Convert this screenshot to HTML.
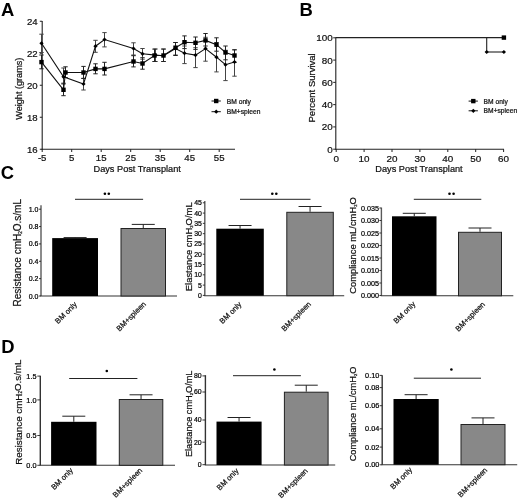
<!DOCTYPE html>
<html><head><meta charset="utf-8"><style>
html,body{margin:0;padding:0;background:#fff;}
svg{display:block;font-family:"Liberation Sans", sans-serif;will-change:transform;}
</style></head><body>
<svg width="520" height="499" viewBox="0 0 520 499">
<rect width="520" height="499" fill="#fff"/>
<text x="1.0" y="15.6" font-size="18.4" text-anchor="start" fill="#000" font-weight="bold" >A</text>
<text x="299.6" y="15.6" font-size="18.4" text-anchor="start" fill="#000" font-weight="bold" >B</text>
<text x="0.8" y="179.4" font-size="18.4" text-anchor="start" fill="#000" font-weight="bold" >C</text>
<text x="1.2" y="352.8" font-size="18.4" text-anchor="start" fill="#000" font-weight="bold" >D</text>
<line x1="42.2" y1="21" x2="42.2" y2="149.7" stroke="#222" stroke-width="1.1"/>
<line x1="41.7" y1="149.2" x2="235" y2="149.2" stroke="#222" stroke-width="1.1"/>
<line x1="39.8" y1="21.25" x2="42.2" y2="21.25" stroke="#222" stroke-width="1"/>
<text x="37.6" y="24.65" font-size="9.6" text-anchor="end" fill="#111" stroke="#111" stroke-width="0.22" font-weight="normal" >24</text>
<line x1="39.8" y1="53.25" x2="42.2" y2="53.25" stroke="#222" stroke-width="1"/>
<text x="37.6" y="56.65" font-size="9.6" text-anchor="end" fill="#111" stroke="#111" stroke-width="0.22" font-weight="normal" >22</text>
<line x1="39.8" y1="85.25" x2="42.2" y2="85.25" stroke="#222" stroke-width="1"/>
<text x="37.6" y="88.65" font-size="9.6" text-anchor="end" fill="#111" stroke="#111" stroke-width="0.22" font-weight="normal" >20</text>
<line x1="39.8" y1="117.25" x2="42.2" y2="117.25" stroke="#222" stroke-width="1"/>
<text x="37.6" y="120.65" font-size="9.6" text-anchor="end" fill="#111" stroke="#111" stroke-width="0.22" font-weight="normal" >18</text>
<line x1="39.8" y1="149.25" x2="42.2" y2="149.25" stroke="#222" stroke-width="1"/>
<text x="37.6" y="152.65" font-size="9.6" text-anchor="end" fill="#111" stroke="#111" stroke-width="0.22" font-weight="normal" >16</text>
<line x1="42.2" y1="149.2" x2="42.2" y2="152.0" stroke="#222" stroke-width="1"/>
<text x="42.2" y="160.6" font-size="9.6" text-anchor="middle" fill="#111" stroke="#111" stroke-width="0.22" font-weight="normal" >-5</text>
<line x1="71.7" y1="149.2" x2="71.7" y2="152.0" stroke="#222" stroke-width="1"/>
<text x="71.7" y="160.6" font-size="9.6" text-anchor="middle" fill="#111" stroke="#111" stroke-width="0.22" font-weight="normal" >5</text>
<line x1="101.2" y1="149.2" x2="101.2" y2="152.0" stroke="#222" stroke-width="1"/>
<text x="101.2" y="160.6" font-size="9.6" text-anchor="middle" fill="#111" stroke="#111" stroke-width="0.22" font-weight="normal" >15</text>
<line x1="130.7" y1="149.2" x2="130.7" y2="152.0" stroke="#222" stroke-width="1"/>
<text x="130.7" y="160.6" font-size="9.6" text-anchor="middle" fill="#111" stroke="#111" stroke-width="0.22" font-weight="normal" >25</text>
<line x1="160.2" y1="149.2" x2="160.2" y2="152.0" stroke="#222" stroke-width="1"/>
<text x="160.2" y="160.6" font-size="9.6" text-anchor="middle" fill="#111" stroke="#111" stroke-width="0.22" font-weight="normal" >35</text>
<line x1="189.7" y1="149.2" x2="189.7" y2="152.0" stroke="#222" stroke-width="1"/>
<text x="189.7" y="160.6" font-size="9.6" text-anchor="middle" fill="#111" stroke="#111" stroke-width="0.22" font-weight="normal" >45</text>
<line x1="219.2" y1="149.2" x2="219.2" y2="152.0" stroke="#222" stroke-width="1"/>
<text x="219.2" y="160.6" font-size="9.6" text-anchor="middle" fill="#111" stroke="#111" stroke-width="0.22" font-weight="normal" >55</text>
<text x="137.2" y="171.6" font-size="9.2" text-anchor="middle" fill="#111" stroke="#111" stroke-width="0.22" font-weight="normal" >Days Post Transplant</text>
<text x="0" y="0" font-size="9.1" text-anchor="middle" fill="#111" stroke="#111" stroke-width="0.22" font-weight="normal" transform="translate(21.5,88.7) rotate(-90)">Weight (grams)</text>
<line x1="41.5" y1="34.2" x2="41.5" y2="52.5" stroke="#444" stroke-width="1"/>
<line x1="39.3" y1="34.2" x2="43.7" y2="34.2" stroke="#444" stroke-width="1"/>
<line x1="39.3" y1="52.5" x2="43.7" y2="52.5" stroke="#444" stroke-width="1"/>
<line x1="63.5" y1="68" x2="63.5" y2="84" stroke="#444" stroke-width="1"/>
<line x1="61.3" y1="68" x2="65.7" y2="68" stroke="#444" stroke-width="1"/>
<line x1="61.3" y1="84" x2="65.7" y2="84" stroke="#444" stroke-width="1"/>
<line x1="83.5" y1="78.4" x2="83.5" y2="90" stroke="#444" stroke-width="1"/>
<line x1="81.3" y1="78.4" x2="85.7" y2="78.4" stroke="#444" stroke-width="1"/>
<line x1="81.3" y1="90" x2="85.7" y2="90" stroke="#444" stroke-width="1"/>
<line x1="95.5" y1="40.3" x2="95.5" y2="52.3" stroke="#444" stroke-width="1"/>
<line x1="93.3" y1="40.3" x2="97.7" y2="40.3" stroke="#444" stroke-width="1"/>
<line x1="93.3" y1="52.3" x2="97.7" y2="52.3" stroke="#444" stroke-width="1"/>
<line x1="104.5" y1="32.6" x2="104.5" y2="46.9" stroke="#444" stroke-width="1"/>
<line x1="102.3" y1="32.6" x2="106.7" y2="32.6" stroke="#444" stroke-width="1"/>
<line x1="102.3" y1="46.9" x2="106.7" y2="46.9" stroke="#444" stroke-width="1"/>
<line x1="133.5" y1="42.8" x2="133.5" y2="55" stroke="#444" stroke-width="1"/>
<line x1="131.3" y1="42.8" x2="135.7" y2="42.8" stroke="#444" stroke-width="1"/>
<line x1="131.3" y1="55" x2="135.7" y2="55" stroke="#444" stroke-width="1"/>
<line x1="142.5" y1="48.5" x2="142.5" y2="59.2" stroke="#444" stroke-width="1"/>
<line x1="140.3" y1="48.5" x2="144.7" y2="48.5" stroke="#444" stroke-width="1"/>
<line x1="140.3" y1="59.2" x2="144.7" y2="59.2" stroke="#444" stroke-width="1"/>
<line x1="155.5" y1="49" x2="155.5" y2="61.5" stroke="#444" stroke-width="1"/>
<line x1="153.3" y1="49" x2="157.7" y2="49" stroke="#444" stroke-width="1"/>
<line x1="153.3" y1="61.5" x2="157.7" y2="61.5" stroke="#444" stroke-width="1"/>
<line x1="163.5" y1="49" x2="163.5" y2="61.5" stroke="#444" stroke-width="1"/>
<line x1="161.3" y1="49" x2="165.7" y2="49" stroke="#444" stroke-width="1"/>
<line x1="161.3" y1="61.5" x2="165.7" y2="61.5" stroke="#444" stroke-width="1"/>
<line x1="175.5" y1="42.5" x2="175.5" y2="55" stroke="#444" stroke-width="1"/>
<line x1="173.3" y1="42.5" x2="177.7" y2="42.5" stroke="#444" stroke-width="1"/>
<line x1="173.3" y1="55" x2="177.7" y2="55" stroke="#444" stroke-width="1"/>
<line x1="184.5" y1="46" x2="184.5" y2="63.6" stroke="#444" stroke-width="1"/>
<line x1="182.3" y1="46" x2="186.7" y2="46" stroke="#444" stroke-width="1"/>
<line x1="182.3" y1="63.6" x2="186.7" y2="63.6" stroke="#444" stroke-width="1"/>
<line x1="195.5" y1="47.7" x2="195.5" y2="67.6" stroke="#444" stroke-width="1"/>
<line x1="193.3" y1="47.7" x2="197.7" y2="47.7" stroke="#444" stroke-width="1"/>
<line x1="193.3" y1="67.6" x2="197.7" y2="67.6" stroke="#444" stroke-width="1"/>
<line x1="205.5" y1="37.3" x2="205.5" y2="61.2" stroke="#444" stroke-width="1"/>
<line x1="203.3" y1="37.3" x2="207.7" y2="37.3" stroke="#444" stroke-width="1"/>
<line x1="203.3" y1="61.2" x2="207.7" y2="61.2" stroke="#444" stroke-width="1"/>
<line x1="216.5" y1="42.5" x2="216.5" y2="71.9" stroke="#444" stroke-width="1"/>
<line x1="214.3" y1="42.5" x2="218.7" y2="42.5" stroke="#444" stroke-width="1"/>
<line x1="214.3" y1="71.9" x2="218.7" y2="71.9" stroke="#444" stroke-width="1"/>
<line x1="225.5" y1="50.3" x2="225.5" y2="80.6" stroke="#444" stroke-width="1"/>
<line x1="223.3" y1="50.3" x2="227.7" y2="50.3" stroke="#444" stroke-width="1"/>
<line x1="223.3" y1="80.6" x2="227.7" y2="80.6" stroke="#444" stroke-width="1"/>
<line x1="234.5" y1="49.8" x2="234.5" y2="76.2" stroke="#444" stroke-width="1"/>
<line x1="232.3" y1="49.8" x2="236.7" y2="49.8" stroke="#444" stroke-width="1"/>
<line x1="232.3" y1="76.2" x2="236.7" y2="76.2" stroke="#444" stroke-width="1"/>
<line x1="41.5" y1="55" x2="41.5" y2="68.8" stroke="#222" stroke-width="1"/>
<line x1="39.3" y1="55" x2="43.7" y2="55" stroke="#222" stroke-width="1"/>
<line x1="39.3" y1="68.8" x2="43.7" y2="68.8" stroke="#222" stroke-width="1"/>
<line x1="63.5" y1="83.2" x2="63.5" y2="95.7" stroke="#222" stroke-width="1"/>
<line x1="61.3" y1="83.2" x2="65.7" y2="83.2" stroke="#222" stroke-width="1"/>
<line x1="61.3" y1="95.7" x2="65.7" y2="95.7" stroke="#222" stroke-width="1"/>
<line x1="65.5" y1="66.8" x2="65.5" y2="77.5" stroke="#222" stroke-width="1"/>
<line x1="63.3" y1="66.8" x2="67.7" y2="66.8" stroke="#222" stroke-width="1"/>
<line x1="63.3" y1="77.5" x2="67.7" y2="77.5" stroke="#222" stroke-width="1"/>
<line x1="83.5" y1="66.4" x2="83.5" y2="78.4" stroke="#222" stroke-width="1"/>
<line x1="81.3" y1="66.4" x2="85.7" y2="66.4" stroke="#222" stroke-width="1"/>
<line x1="81.3" y1="78.4" x2="85.7" y2="78.4" stroke="#222" stroke-width="1"/>
<line x1="95.5" y1="63.8" x2="95.5" y2="73.8" stroke="#222" stroke-width="1"/>
<line x1="93.3" y1="63.8" x2="97.7" y2="63.8" stroke="#222" stroke-width="1"/>
<line x1="93.3" y1="73.8" x2="97.7" y2="73.8" stroke="#222" stroke-width="1"/>
<line x1="104.5" y1="62.3" x2="104.5" y2="75" stroke="#222" stroke-width="1"/>
<line x1="102.3" y1="62.3" x2="106.7" y2="62.3" stroke="#222" stroke-width="1"/>
<line x1="102.3" y1="75" x2="106.7" y2="75" stroke="#222" stroke-width="1"/>
<line x1="133.5" y1="55.7" x2="133.5" y2="66.9" stroke="#222" stroke-width="1"/>
<line x1="131.3" y1="55.7" x2="135.7" y2="55.7" stroke="#222" stroke-width="1"/>
<line x1="131.3" y1="66.9" x2="135.7" y2="66.9" stroke="#222" stroke-width="1"/>
<line x1="142.5" y1="57.7" x2="142.5" y2="69.2" stroke="#222" stroke-width="1"/>
<line x1="140.3" y1="57.7" x2="144.7" y2="57.7" stroke="#222" stroke-width="1"/>
<line x1="140.3" y1="69.2" x2="144.7" y2="69.2" stroke="#222" stroke-width="1"/>
<line x1="154.5" y1="49.1" x2="154.5" y2="61.5" stroke="#222" stroke-width="1"/>
<line x1="152.3" y1="49.1" x2="156.7" y2="49.1" stroke="#222" stroke-width="1"/>
<line x1="152.3" y1="61.5" x2="156.7" y2="61.5" stroke="#222" stroke-width="1"/>
<line x1="163.5" y1="49.1" x2="163.5" y2="61.5" stroke="#222" stroke-width="1"/>
<line x1="161.3" y1="49.1" x2="165.7" y2="49.1" stroke="#222" stroke-width="1"/>
<line x1="161.3" y1="61.5" x2="165.7" y2="61.5" stroke="#222" stroke-width="1"/>
<line x1="175.5" y1="42.5" x2="175.5" y2="55.5" stroke="#222" stroke-width="1"/>
<line x1="173.3" y1="42.5" x2="177.7" y2="42.5" stroke="#222" stroke-width="1"/>
<line x1="173.3" y1="55.5" x2="177.7" y2="55.5" stroke="#222" stroke-width="1"/>
<line x1="184.5" y1="35.9" x2="184.5" y2="48.6" stroke="#222" stroke-width="1"/>
<line x1="182.3" y1="35.9" x2="186.7" y2="35.9" stroke="#222" stroke-width="1"/>
<line x1="182.3" y1="48.6" x2="186.7" y2="48.6" stroke="#222" stroke-width="1"/>
<line x1="195.5" y1="37" x2="195.5" y2="49.4" stroke="#222" stroke-width="1"/>
<line x1="193.3" y1="37" x2="197.7" y2="37" stroke="#222" stroke-width="1"/>
<line x1="193.3" y1="49.4" x2="197.7" y2="49.4" stroke="#222" stroke-width="1"/>
<line x1="205.5" y1="33.5" x2="205.5" y2="46" stroke="#222" stroke-width="1"/>
<line x1="203.3" y1="33.5" x2="207.7" y2="33.5" stroke="#222" stroke-width="1"/>
<line x1="203.3" y1="46" x2="207.7" y2="46" stroke="#222" stroke-width="1"/>
<line x1="216.5" y1="37.8" x2="216.5" y2="51.2" stroke="#222" stroke-width="1"/>
<line x1="214.3" y1="37.8" x2="218.7" y2="37.8" stroke="#222" stroke-width="1"/>
<line x1="214.3" y1="51.2" x2="218.7" y2="51.2" stroke="#222" stroke-width="1"/>
<line x1="225.5" y1="46" x2="225.5" y2="59.8" stroke="#222" stroke-width="1"/>
<line x1="223.3" y1="46" x2="227.7" y2="46" stroke="#222" stroke-width="1"/>
<line x1="223.3" y1="59.8" x2="227.7" y2="59.8" stroke="#222" stroke-width="1"/>
<line x1="234.5" y1="49.8" x2="234.5" y2="62.4" stroke="#222" stroke-width="1"/>
<line x1="232.3" y1="49.8" x2="236.7" y2="49.8" stroke="#222" stroke-width="1"/>
<line x1="232.3" y1="62.4" x2="236.7" y2="62.4" stroke="#222" stroke-width="1"/>
<polyline points="41.5,62.1 63.5,89.8 65.5,72.5 83.5,72.5 95.5,68.9 104.5,68.9 133.5,61.5 142.5,63.5 154.5,55.5 163.5,55.5 175.5,47.7 184.5,42.2 195.5,42.8 205.5,40.4 216.5,44.7 225.5,52.5 234.5,55.5" fill="none" stroke="#111" stroke-width="1.1"/>
<polyline points="41.5,43.3 63.5,76.8 83.5,84 95.5,46.2 104.5,39.5 133.5,48.5 142.5,53.8 155.5,55.1 163.5,55.7 175.5,48.6 184.5,53.2 195.5,55.1 205.5,48.6 216.5,57.2 225.5,64.7 234.5,62" fill="none" stroke="#111" stroke-width="1.1"/>
<rect x="39.3" y="59.9" width="4.4" height="4.4" fill="#000" stroke="none" stroke-width="1"/>
<rect x="61.3" y="87.6" width="4.4" height="4.4" fill="#000" stroke="none" stroke-width="1"/>
<rect x="63.3" y="70.3" width="4.4" height="4.4" fill="#000" stroke="none" stroke-width="1"/>
<rect x="81.3" y="70.3" width="4.4" height="4.4" fill="#000" stroke="none" stroke-width="1"/>
<rect x="93.3" y="66.7" width="4.4" height="4.4" fill="#000" stroke="none" stroke-width="1"/>
<rect x="102.3" y="66.7" width="4.4" height="4.4" fill="#000" stroke="none" stroke-width="1"/>
<rect x="131.3" y="59.3" width="4.4" height="4.4" fill="#000" stroke="none" stroke-width="1"/>
<rect x="140.3" y="61.3" width="4.4" height="4.4" fill="#000" stroke="none" stroke-width="1"/>
<rect x="152.3" y="53.3" width="4.4" height="4.4" fill="#000" stroke="none" stroke-width="1"/>
<rect x="161.3" y="53.3" width="4.4" height="4.4" fill="#000" stroke="none" stroke-width="1"/>
<rect x="173.3" y="45.5" width="4.4" height="4.4" fill="#000" stroke="none" stroke-width="1"/>
<rect x="182.3" y="40.0" width="4.4" height="4.4" fill="#000" stroke="none" stroke-width="1"/>
<rect x="193.3" y="40.6" width="4.4" height="4.4" fill="#000" stroke="none" stroke-width="1"/>
<rect x="203.3" y="38.2" width="4.4" height="4.4" fill="#000" stroke="none" stroke-width="1"/>
<rect x="214.3" y="42.5" width="4.4" height="4.4" fill="#000" stroke="none" stroke-width="1"/>
<rect x="223.3" y="50.3" width="4.4" height="4.4" fill="#000" stroke="none" stroke-width="1"/>
<rect x="232.3" y="53.3" width="4.4" height="4.4" fill="#000" stroke="none" stroke-width="1"/>
<path d="M39.4 43.3L41.5 41.2L43.6 43.3L41.5 45.4Z" fill="#000"/>
<path d="M61.4 76.8L63.5 74.7L65.6 76.8L63.5 78.9Z" fill="#000"/>
<path d="M81.4 84L83.5 81.9L85.6 84L83.5 86.1Z" fill="#000"/>
<path d="M93.4 46.2L95.5 44.1L97.6 46.2L95.5 48.3Z" fill="#000"/>
<path d="M102.4 39.5L104.5 37.4L106.6 39.5L104.5 41.6Z" fill="#000"/>
<path d="M131.4 48.5L133.5 46.4L135.6 48.5L133.5 50.6Z" fill="#000"/>
<path d="M140.4 53.8L142.5 51.7L144.6 53.8L142.5 55.9Z" fill="#000"/>
<path d="M153.4 55.1L155.5 53.0L157.6 55.1L155.5 57.2Z" fill="#000"/>
<path d="M161.4 55.7L163.5 53.6L165.6 55.7L163.5 57.8Z" fill="#000"/>
<path d="M173.4 48.6L175.5 46.5L177.6 48.6L175.5 50.7Z" fill="#000"/>
<path d="M182.4 53.2L184.5 51.1L186.6 53.2L184.5 55.3Z" fill="#000"/>
<path d="M193.4 55.1L195.5 53.0L197.6 55.1L195.5 57.2Z" fill="#000"/>
<path d="M203.4 48.6L205.5 46.5L207.6 48.6L205.5 50.7Z" fill="#000"/>
<path d="M214.4 57.2L216.5 55.1L218.6 57.2L216.5 59.3Z" fill="#000"/>
<path d="M223.4 64.7L225.5 62.6L227.6 64.7L225.5 66.8Z" fill="#000"/>
<path d="M232.4 62L234.5 59.9L236.6 62L234.5 64.1Z" fill="#000"/>
<line x1="211.5" y1="101" x2="220.8" y2="101" stroke="#111" stroke-width="1"/>
<rect x="214.0" y="98.8" width="4.4" height="4.4" fill="#000" stroke="none" stroke-width="1"/>
<text x="226.8" y="103.5" font-size="6.7" text-anchor="start" fill="#111" stroke="#111" stroke-width="0.22" font-weight="normal" >BM only</text>
<line x1="211.5" y1="111.7" x2="220.8" y2="111.7" stroke="#111" stroke-width="1"/>
<path d="M214.1 111.7L216.2 109.6L218.3 111.7L216.2 113.8Z" fill="#000"/>
<text x="226.8" y="114.2" font-size="6.7" text-anchor="start" fill="#111" stroke="#111" stroke-width="0.22" font-weight="normal" >BM+spleen</text>
<line x1="335.8" y1="37.3" x2="335.8" y2="149.7" stroke="#222" stroke-width="1.1"/>
<line x1="335.3" y1="149.2" x2="504" y2="149.2" stroke="#222" stroke-width="1.1"/>
<line x1="333.2" y1="37.8" x2="335.8" y2="37.8" stroke="#222" stroke-width="1"/>
<text x="332.8" y="41.3" font-size="9.9" text-anchor="end" fill="#111" stroke="#111" stroke-width="0.22" font-weight="normal" >100</text>
<line x1="333.2" y1="60.08" x2="335.8" y2="60.08" stroke="#222" stroke-width="1"/>
<text x="332.8" y="63.58" font-size="9.9" text-anchor="end" fill="#111" stroke="#111" stroke-width="0.22" font-weight="normal" >80</text>
<line x1="333.2" y1="82.36" x2="335.8" y2="82.36" stroke="#222" stroke-width="1"/>
<text x="332.8" y="85.86" font-size="9.9" text-anchor="end" fill="#111" stroke="#111" stroke-width="0.22" font-weight="normal" >60</text>
<line x1="333.2" y1="104.64" x2="335.8" y2="104.64" stroke="#222" stroke-width="1"/>
<text x="332.8" y="108.14" font-size="9.9" text-anchor="end" fill="#111" stroke="#111" stroke-width="0.22" font-weight="normal" >40</text>
<line x1="333.2" y1="126.92" x2="335.8" y2="126.92" stroke="#222" stroke-width="1"/>
<text x="332.8" y="130.42" font-size="9.9" text-anchor="end" fill="#111" stroke="#111" stroke-width="0.22" font-weight="normal" >20</text>
<line x1="333.2" y1="149.2" x2="335.8" y2="149.2" stroke="#222" stroke-width="1"/>
<text x="332.8" y="152.7" font-size="9.9" text-anchor="end" fill="#111" stroke="#111" stroke-width="0.22" font-weight="normal" >0</text>
<line x1="336.2" y1="149.2" x2="336.2" y2="152.0" stroke="#222" stroke-width="1"/>
<text x="336.2" y="161.8" font-size="9.9" text-anchor="middle" fill="#111" stroke="#111" stroke-width="0.22" font-weight="normal" >0</text>
<line x1="364.1" y1="149.2" x2="364.1" y2="152.0" stroke="#222" stroke-width="1"/>
<text x="364.1" y="161.8" font-size="9.9" text-anchor="middle" fill="#111" stroke="#111" stroke-width="0.22" font-weight="normal" >10</text>
<line x1="392.0" y1="149.2" x2="392.0" y2="152.0" stroke="#222" stroke-width="1"/>
<text x="392.0" y="161.8" font-size="9.9" text-anchor="middle" fill="#111" stroke="#111" stroke-width="0.22" font-weight="normal" >20</text>
<line x1="419.9" y1="149.2" x2="419.9" y2="152.0" stroke="#222" stroke-width="1"/>
<text x="419.9" y="161.8" font-size="9.9" text-anchor="middle" fill="#111" stroke="#111" stroke-width="0.22" font-weight="normal" >30</text>
<line x1="447.8" y1="149.2" x2="447.8" y2="152.0" stroke="#222" stroke-width="1"/>
<text x="447.8" y="161.8" font-size="9.9" text-anchor="middle" fill="#111" stroke="#111" stroke-width="0.22" font-weight="normal" >40</text>
<line x1="475.7" y1="149.2" x2="475.7" y2="152.0" stroke="#222" stroke-width="1"/>
<text x="475.7" y="161.8" font-size="9.9" text-anchor="middle" fill="#111" stroke="#111" stroke-width="0.22" font-weight="normal" >50</text>
<line x1="503.6" y1="149.2" x2="503.6" y2="152.0" stroke="#222" stroke-width="1"/>
<text x="503.6" y="161.8" font-size="9.9" text-anchor="middle" fill="#111" stroke="#111" stroke-width="0.22" font-weight="normal" >60</text>
<text x="419" y="171.8" font-size="9.2" text-anchor="middle" fill="#111" stroke="#111" stroke-width="0.22" font-weight="normal" >Days Post Transplant</text>
<text x="0" y="0" font-size="9.5" text-anchor="middle" fill="#111" stroke="#111" stroke-width="0.22" font-weight="normal" transform="translate(314.9,87.9) rotate(-90)">Percent Survival</text>
<line x1="335.8" y1="37.6" x2="503.9" y2="37.6" stroke="#222" stroke-width="1.1"/>
<line x1="486.7" y1="37.6" x2="486.7" y2="52" stroke="#222" stroke-width="1.1"/>
<line x1="486.7" y1="52" x2="503.9" y2="52" stroke="#222" stroke-width="1.1"/>
<rect x="501.7" y="35.4" width="4.4" height="4.4" fill="#000" stroke="none" stroke-width="1"/>
<path d="M484.6 52L486.7 49.9L488.8 52L486.7 54.1Z" fill="#000"/>
<path d="M501.8 52L503.9 49.9L506.0 52L503.9 54.1Z" fill="#000"/>
<line x1="468.6" y1="101.1" x2="477.9" y2="101.1" stroke="#111" stroke-width="1"/>
<rect x="471.1" y="98.9" width="4.4" height="4.4" fill="#000" stroke="none" stroke-width="1"/>
<text x="483.6" y="103.6" font-size="6.7" text-anchor="start" fill="#111" stroke="#111" stroke-width="0.22" font-weight="normal" >BM only</text>
<line x1="468.6" y1="110.8" x2="477.9" y2="110.8" stroke="#111" stroke-width="1"/>
<path d="M471.2 110.8L473.3 108.7L475.4 110.8L473.3 112.9Z" fill="#000"/>
<text x="483.6" y="113.3" font-size="6.7" text-anchor="start" fill="#111" stroke="#111" stroke-width="0.22" font-weight="normal" >BM+spleen</text>
<line x1="41" y1="205.3" x2="41" y2="296" stroke="#5a5a5a" stroke-width="1.4"/>
<line x1="40.4" y1="296" x2="177" y2="296" stroke="#333" stroke-width="1.1"/>
<line x1="39.0" y1="296.0" x2="41" y2="296.0" stroke="#222" stroke-width="0.9"/>
<text x="38.4" y="298.52" font-size="7.0" text-anchor="end" fill="#000" stroke="#000" stroke-width="0.22" font-weight="normal" >0.0</text>
<line x1="39.0" y1="278.64" x2="41" y2="278.64" stroke="#222" stroke-width="0.9"/>
<text x="38.4" y="281.16" font-size="7.0" text-anchor="end" fill="#000" stroke="#000" stroke-width="0.22" font-weight="normal" >0.2</text>
<line x1="39.0" y1="261.28" x2="41" y2="261.28" stroke="#222" stroke-width="0.9"/>
<text x="38.4" y="263.8" font-size="7.0" text-anchor="end" fill="#000" stroke="#000" stroke-width="0.22" font-weight="normal" >0.4</text>
<line x1="39.0" y1="243.92" x2="41" y2="243.92" stroke="#222" stroke-width="0.9"/>
<text x="38.4" y="246.44" font-size="7.0" text-anchor="end" fill="#000" stroke="#000" stroke-width="0.22" font-weight="normal" >0.6</text>
<line x1="39.0" y1="226.56" x2="41" y2="226.56" stroke="#222" stroke-width="0.9"/>
<text x="38.4" y="229.08" font-size="7.0" text-anchor="end" fill="#000" stroke="#000" stroke-width="0.22" font-weight="normal" >0.8</text>
<line x1="39.0" y1="209.2" x2="41" y2="209.2" stroke="#222" stroke-width="0.9"/>
<text x="38.4" y="211.72" font-size="7.0" text-anchor="end" fill="#000" stroke="#000" stroke-width="0.22" font-weight="normal" >1.0</text>
<rect x="52.2" y="238.1" width="45.8" height="57.9" fill="#000" stroke="none" stroke-width="1"/>
<rect x="121.0" y="228.5" width="44.5" height="67.5" fill="#888888" stroke="#222" stroke-width="1"/>
<line x1="75.1" y1="237.6" x2="75.1" y2="238.1" stroke="#222" stroke-width="1"/>
<line x1="63.6" y1="237.6" x2="86.6" y2="237.6" stroke="#222" stroke-width="1"/>
<line x1="143.25" y1="224.4" x2="143.25" y2="228" stroke="#222" stroke-width="1"/>
<line x1="131.75" y1="224.4" x2="154.75" y2="224.4" stroke="#222" stroke-width="1"/>
<line x1="75" y1="199.3" x2="143.1" y2="199.3" stroke="#222" stroke-width="1"/>
<circle cx="104.9" cy="193.7" r="1.3" fill="#000"/>
<circle cx="108.8" cy="193.7" r="1.3" fill="#000"/>
<text x="0" y="0" font-size="10" text-anchor="middle" fill="#111" stroke="#111" stroke-width="0.22" font-weight="normal" transform="translate(21.2,252.8) rotate(-90)">Resistance cmH<tspan font-size="0.45em" dy="0.12em">2</tspan><tspan dy="-0.12em">O.s/mL</tspan></text>
<text x="0" y="0" font-size="7.6" text-anchor="end" fill="#111" stroke="#111" stroke-width="0.22" font-weight="normal" transform="translate(77.5,304.8) rotate(-45)">BM only</text>
<text x="0" y="0" font-size="7.6" text-anchor="end" fill="#111" stroke="#111" stroke-width="0.22" font-weight="normal" transform="translate(146.5,304.65) rotate(-45)">BM+spleen</text>
<line x1="204.8" y1="201" x2="204.8" y2="295.7" stroke="#5a5a5a" stroke-width="1.4"/>
<line x1="204.2" y1="295.7" x2="344.2" y2="295.7" stroke="#333" stroke-width="1.1"/>
<line x1="202.8" y1="295.4" x2="204.8" y2="295.4" stroke="#222" stroke-width="0.9"/>
<text x="201.8" y="297.88" font-size="6.9" text-anchor="end" fill="#000" stroke="#000" stroke-width="0.22" font-weight="normal" >0</text>
<line x1="202.8" y1="285.11" x2="204.8" y2="285.11" stroke="#222" stroke-width="0.9"/>
<text x="201.8" y="287.59" font-size="6.9" text-anchor="end" fill="#000" stroke="#000" stroke-width="0.22" font-weight="normal" >5</text>
<line x1="202.8" y1="274.82" x2="204.8" y2="274.82" stroke="#222" stroke-width="0.9"/>
<text x="201.8" y="277.3" font-size="6.9" text-anchor="end" fill="#000" stroke="#000" stroke-width="0.22" font-weight="normal" >10</text>
<line x1="202.8" y1="264.53" x2="204.8" y2="264.53" stroke="#222" stroke-width="0.9"/>
<text x="201.8" y="267.01" font-size="6.9" text-anchor="end" fill="#000" stroke="#000" stroke-width="0.22" font-weight="normal" >15</text>
<line x1="202.8" y1="254.24" x2="204.8" y2="254.24" stroke="#222" stroke-width="0.9"/>
<text x="201.8" y="256.72" font-size="6.9" text-anchor="end" fill="#000" stroke="#000" stroke-width="0.22" font-weight="normal" >20</text>
<line x1="202.8" y1="243.95" x2="204.8" y2="243.95" stroke="#222" stroke-width="0.9"/>
<text x="201.8" y="246.43" font-size="6.9" text-anchor="end" fill="#000" stroke="#000" stroke-width="0.22" font-weight="normal" >25</text>
<line x1="202.8" y1="233.66" x2="204.8" y2="233.66" stroke="#222" stroke-width="0.9"/>
<text x="201.8" y="236.14" font-size="6.9" text-anchor="end" fill="#000" stroke="#000" stroke-width="0.22" font-weight="normal" >30</text>
<line x1="202.8" y1="223.37" x2="204.8" y2="223.37" stroke="#222" stroke-width="0.9"/>
<text x="201.8" y="225.85" font-size="6.9" text-anchor="end" fill="#000" stroke="#000" stroke-width="0.22" font-weight="normal" >35</text>
<line x1="202.8" y1="213.08" x2="204.8" y2="213.08" stroke="#222" stroke-width="0.9"/>
<text x="201.8" y="215.56" font-size="6.9" text-anchor="end" fill="#000" stroke="#000" stroke-width="0.22" font-weight="normal" >40</text>
<line x1="202.8" y1="202.79" x2="204.8" y2="202.79" stroke="#222" stroke-width="0.9"/>
<text x="201.8" y="205.27" font-size="6.9" text-anchor="end" fill="#000" stroke="#000" stroke-width="0.22" font-weight="normal" >45</text>
<rect x="216.3" y="228.7" width="47.5" height="67.0" fill="#000" stroke="none" stroke-width="1"/>
<rect x="286.8" y="212.3" width="46.5" height="83.4" fill="#888888" stroke="#222" stroke-width="1"/>
<line x1="240.05" y1="225.5" x2="240.05" y2="228.7" stroke="#222" stroke-width="1"/>
<line x1="228.55" y1="225.5" x2="251.55" y2="225.5" stroke="#222" stroke-width="1"/>
<line x1="310.05" y1="206.5" x2="310.05" y2="211.8" stroke="#222" stroke-width="1"/>
<line x1="298.55" y1="206.5" x2="321.55" y2="206.5" stroke="#222" stroke-width="1"/>
<line x1="240" y1="199.3" x2="310.5" y2="199.3" stroke="#222" stroke-width="1"/>
<circle cx="272.3" cy="193.7" r="1.3" fill="#000"/>
<circle cx="276.3" cy="193.7" r="1.3" fill="#000"/>
<text x="0" y="0" font-size="9.45" text-anchor="middle" fill="#111" stroke="#111" stroke-width="0.22" font-weight="normal" transform="translate(192.2,246.8) rotate(-90)">Elastance cmH<tspan font-size="0.45em" dy="0.12em">2</tspan><tspan dy="-0.12em">O/mL</tspan></text>
<text x="0" y="0" font-size="7.6" text-anchor="end" fill="#111" stroke="#111" stroke-width="0.22" font-weight="normal" transform="translate(242,304.8) rotate(-45)">BM only</text>
<text x="0" y="0" font-size="7.6" text-anchor="end" fill="#111" stroke="#111" stroke-width="0.22" font-weight="normal" transform="translate(311.5,304.65) rotate(-45)">BM+spleen</text>
<line x1="381.4" y1="207.6" x2="381.4" y2="295.8" stroke="#5a5a5a" stroke-width="1.4"/>
<line x1="380.8" y1="295.8" x2="513.3" y2="295.8" stroke="#333" stroke-width="1.1"/>
<line x1="379.4" y1="295.5" x2="381.4" y2="295.5" stroke="#222" stroke-width="0.9"/>
<text x="379.1" y="298.09" font-size="7.2" text-anchor="end" fill="#000" stroke="#000" stroke-width="0.22" font-weight="normal" >0.000</text>
<line x1="379.4" y1="283.0" x2="381.4" y2="283.0" stroke="#222" stroke-width="0.9"/>
<text x="379.1" y="285.59" font-size="7.2" text-anchor="end" fill="#000" stroke="#000" stroke-width="0.22" font-weight="normal" >0.005</text>
<line x1="379.4" y1="270.5" x2="381.4" y2="270.5" stroke="#222" stroke-width="0.9"/>
<text x="379.1" y="273.09" font-size="7.2" text-anchor="end" fill="#000" stroke="#000" stroke-width="0.22" font-weight="normal" >0.010</text>
<line x1="379.4" y1="258.0" x2="381.4" y2="258.0" stroke="#222" stroke-width="0.9"/>
<text x="379.1" y="260.59" font-size="7.2" text-anchor="end" fill="#000" stroke="#000" stroke-width="0.22" font-weight="normal" >0.015</text>
<line x1="379.4" y1="245.5" x2="381.4" y2="245.5" stroke="#222" stroke-width="0.9"/>
<text x="379.1" y="248.09" font-size="7.2" text-anchor="end" fill="#000" stroke="#000" stroke-width="0.22" font-weight="normal" >0.020</text>
<line x1="379.4" y1="233.0" x2="381.4" y2="233.0" stroke="#222" stroke-width="0.9"/>
<text x="379.1" y="235.59" font-size="7.2" text-anchor="end" fill="#000" stroke="#000" stroke-width="0.22" font-weight="normal" >0.025</text>
<line x1="379.4" y1="220.5" x2="381.4" y2="220.5" stroke="#222" stroke-width="0.9"/>
<text x="379.1" y="223.09" font-size="7.2" text-anchor="end" fill="#000" stroke="#000" stroke-width="0.22" font-weight="normal" >0.030</text>
<line x1="379.4" y1="208.0" x2="381.4" y2="208.0" stroke="#222" stroke-width="0.9"/>
<text x="379.1" y="210.59" font-size="7.2" text-anchor="end" fill="#000" stroke="#000" stroke-width="0.22" font-weight="normal" >0.035</text>
<rect x="392" y="216.3" width="44.5" height="79.5" fill="#000" stroke="none" stroke-width="1"/>
<rect x="458.5" y="232.3" width="43" height="63.5" fill="#888888" stroke="#222" stroke-width="1"/>
<line x1="414.25" y1="213.3" x2="414.25" y2="216.3" stroke="#222" stroke-width="1"/>
<line x1="402.75" y1="213.3" x2="425.75" y2="213.3" stroke="#222" stroke-width="1"/>
<line x1="480.0" y1="228" x2="480.0" y2="231.8" stroke="#222" stroke-width="1"/>
<line x1="468.5" y1="228" x2="491.5" y2="228" stroke="#222" stroke-width="1"/>
<line x1="413.8" y1="199.3" x2="481.3" y2="199.3" stroke="#222" stroke-width="1"/>
<circle cx="449.5" cy="193.7" r="1.3" fill="#000"/>
<circle cx="453.6" cy="193.7" r="1.3" fill="#000"/>
<text x="0" y="0" font-size="9.4" text-anchor="middle" fill="#111" stroke="#111" stroke-width="0.22" font-weight="normal" transform="translate(356.4,245.5) rotate(-90)">Compliance mL/cmH<tspan font-size="0.45em" dy="0.12em">2</tspan><tspan dy="-0.12em">O</tspan></text>
<text x="0" y="0" font-size="7.6" text-anchor="end" fill="#111" stroke="#111" stroke-width="0.22" font-weight="normal" transform="translate(415.95,304.6) rotate(-45)">BM only</text>
<text x="0" y="0" font-size="7.6" text-anchor="end" fill="#111" stroke="#111" stroke-width="0.22" font-weight="normal" transform="translate(485.5,304.9) rotate(-45)">BM+spleen</text>
<line x1="40.3" y1="375.7" x2="40.3" y2="465.3" stroke="#333" stroke-width="1.4"/>
<line x1="39.7" y1="465.3" x2="175" y2="465.3" stroke="#333" stroke-width="1.1"/>
<line x1="37.3" y1="376.1" x2="40.3" y2="376.1" stroke="#222" stroke-width="0.9"/>
<text x="36.5" y="378.73" font-size="7.3" text-anchor="end" fill="#000" stroke="#000" stroke-width="0.22" font-weight="normal" >1.5</text>
<line x1="37.3" y1="399.9" x2="40.3" y2="399.9" stroke="#222" stroke-width="0.9"/>
<text x="36.5" y="402.53" font-size="7.3" text-anchor="end" fill="#000" stroke="#000" stroke-width="0.22" font-weight="normal" >1.0</text>
<line x1="37.3" y1="435.5" x2="40.3" y2="435.5" stroke="#222" stroke-width="0.9"/>
<text x="36.5" y="438.13" font-size="7.3" text-anchor="end" fill="#000" stroke="#000" stroke-width="0.22" font-weight="normal" >0.5</text>
<line x1="37.3" y1="465.3" x2="40.3" y2="465.3" stroke="#222" stroke-width="0.9"/>
<text x="36.5" y="467.93" font-size="7.3" text-anchor="end" fill="#000" stroke="#000" stroke-width="0.22" font-weight="normal" >0.0</text>
<rect x="51.1" y="421.8" width="45.4" height="43.5" fill="#000" stroke="none" stroke-width="1"/>
<rect x="119.3" y="399.5" width="43.5" height="65.8" fill="#888888" stroke="#222" stroke-width="1"/>
<line x1="73.8" y1="416.2" x2="73.8" y2="421.8" stroke="#222" stroke-width="1"/>
<line x1="62.3" y1="416.2" x2="85.3" y2="416.2" stroke="#222" stroke-width="1"/>
<line x1="141.05" y1="394.8" x2="141.05" y2="399" stroke="#222" stroke-width="1"/>
<line x1="129.55" y1="394.8" x2="152.55" y2="394.8" stroke="#222" stroke-width="1"/>
<line x1="69.2" y1="378.5" x2="137.4" y2="378.5" stroke="#222" stroke-width="1"/>
<circle cx="106.8" cy="371" r="1.3" fill="#000"/>
<text x="0" y="0" font-size="9.8" text-anchor="middle" fill="#111" stroke="#111" stroke-width="0.22" font-weight="normal" transform="translate(21.8,412.2) rotate(-90)">Resistance cmH<tspan font-size="0.45em" dy="0.12em">2</tspan><tspan dy="-0.12em">O.s/mL</tspan></text>
<text x="0" y="0" font-size="7.6" text-anchor="end" fill="#111" stroke="#111" stroke-width="0.22" font-weight="normal" transform="translate(73.55,470.85) rotate(-45)">BM only</text>
<text x="0" y="0" font-size="7.6" text-anchor="end" fill="#111" stroke="#111" stroke-width="0.22" font-weight="normal" transform="translate(142.85,470.9) rotate(-45)">BM+spleen</text>
<line x1="205.4" y1="375.2" x2="205.4" y2="465" stroke="#333" stroke-width="1.4"/>
<line x1="204.8" y1="465" x2="335.2" y2="465" stroke="#333" stroke-width="1.1"/>
<line x1="202.4" y1="375.9" x2="205.4" y2="375.9" stroke="#222" stroke-width="0.9"/>
<text x="201.6" y="378.38" font-size="6.9" text-anchor="end" fill="#000" stroke="#000" stroke-width="0.22" font-weight="normal" >80</text>
<line x1="202.4" y1="392" x2="205.4" y2="392" stroke="#222" stroke-width="0.9"/>
<text x="201.6" y="394.48" font-size="6.9" text-anchor="end" fill="#000" stroke="#000" stroke-width="0.22" font-weight="normal" >60</text>
<line x1="202.4" y1="420" x2="205.4" y2="420" stroke="#222" stroke-width="0.9"/>
<text x="201.6" y="422.48" font-size="6.9" text-anchor="end" fill="#000" stroke="#000" stroke-width="0.22" font-weight="normal" >40</text>
<line x1="202.4" y1="442.2" x2="205.4" y2="442.2" stroke="#222" stroke-width="0.9"/>
<text x="201.6" y="444.68" font-size="6.9" text-anchor="end" fill="#000" stroke="#000" stroke-width="0.22" font-weight="normal" >20</text>
<line x1="202.4" y1="464.7" x2="205.4" y2="464.7" stroke="#222" stroke-width="0.9"/>
<text x="201.6" y="467.18" font-size="6.9" text-anchor="end" fill="#000" stroke="#000" stroke-width="0.22" font-weight="normal" >0</text>
<rect x="216.5" y="421.6" width="45.1" height="43.4" fill="#000" stroke="none" stroke-width="1"/>
<rect x="284.4" y="392.2" width="43.7" height="72.8" fill="#888888" stroke="#222" stroke-width="1"/>
<line x1="239.05" y1="417.5" x2="239.05" y2="421.6" stroke="#222" stroke-width="1"/>
<line x1="227.55" y1="417.5" x2="250.55" y2="417.5" stroke="#222" stroke-width="1"/>
<line x1="306.25" y1="385.2" x2="306.25" y2="391.7" stroke="#222" stroke-width="1"/>
<line x1="294.75" y1="385.2" x2="317.75" y2="385.2" stroke="#222" stroke-width="1"/>
<line x1="233" y1="375.7" x2="300.9" y2="375.7" stroke="#222" stroke-width="1"/>
<circle cx="274.4" cy="369.5" r="1.3" fill="#000"/>
<text x="0" y="0" font-size="9.2" text-anchor="middle" fill="#111" stroke="#111" stroke-width="0.22" font-weight="normal" transform="translate(192.2,413.8) rotate(-90)">Elastance cmH<tspan font-size="0.45em" dy="0.12em">2</tspan><tspan dy="-0.12em">O/mL</tspan></text>
<text x="0" y="0" font-size="7.6" text-anchor="end" fill="#111" stroke="#111" stroke-width="0.22" font-weight="normal" transform="translate(239.2,471.3) rotate(-45)">BM only</text>
<text x="0" y="0" font-size="7.6" text-anchor="end" fill="#111" stroke="#111" stroke-width="0.22" font-weight="normal" transform="translate(308.35,471.4) rotate(-45)">BM+spleen</text>
<line x1="382.2" y1="375.2" x2="382.2" y2="464.7" stroke="#333" stroke-width="1.4"/>
<line x1="381.6" y1="464.7" x2="517.2" y2="464.7" stroke="#333" stroke-width="1.1"/>
<line x1="379.7" y1="375.4" x2="382.2" y2="375.4" stroke="#222" stroke-width="0.9"/>
<text x="379.3" y="378.03" font-size="7.3" text-anchor="end" fill="#000" stroke="#000" stroke-width="0.22" font-weight="normal" >0.10</text>
<line x1="379.7" y1="387.6" x2="382.2" y2="387.6" stroke="#222" stroke-width="0.9"/>
<text x="379.3" y="390.23" font-size="7.3" text-anchor="end" fill="#000" stroke="#000" stroke-width="0.22" font-weight="normal" >0.08</text>
<line x1="379.7" y1="405.7" x2="382.2" y2="405.7" stroke="#222" stroke-width="0.9"/>
<text x="379.3" y="408.33" font-size="7.3" text-anchor="end" fill="#000" stroke="#000" stroke-width="0.22" font-weight="normal" >0.06</text>
<line x1="379.7" y1="428.8" x2="382.2" y2="428.8" stroke="#222" stroke-width="0.9"/>
<text x="379.3" y="431.43" font-size="7.3" text-anchor="end" fill="#000" stroke="#000" stroke-width="0.22" font-weight="normal" >0.04</text>
<line x1="379.7" y1="447.1" x2="382.2" y2="447.1" stroke="#222" stroke-width="0.9"/>
<text x="379.3" y="449.73" font-size="7.3" text-anchor="end" fill="#000" stroke="#000" stroke-width="0.22" font-weight="normal" >0.02</text>
<line x1="379.7" y1="464.8" x2="382.2" y2="464.8" stroke="#222" stroke-width="0.9"/>
<text x="379.3" y="467.43" font-size="7.3" text-anchor="end" fill="#000" stroke="#000" stroke-width="0.22" font-weight="normal" >0.00</text>
<rect x="393.5" y="399" width="45.2" height="65.7" fill="#000" stroke="none" stroke-width="1"/>
<rect x="461.0" y="424.5" width="44" height="40.2" fill="#888888" stroke="#222" stroke-width="1"/>
<line x1="416.1" y1="394.7" x2="416.1" y2="399" stroke="#222" stroke-width="1"/>
<line x1="404.6" y1="394.7" x2="427.6" y2="394.7" stroke="#222" stroke-width="1"/>
<line x1="483.0" y1="417.9" x2="483.0" y2="424" stroke="#222" stroke-width="1"/>
<line x1="471.5" y1="417.9" x2="494.5" y2="417.9" stroke="#222" stroke-width="1"/>
<line x1="413.8" y1="378.2" x2="481" y2="378.2" stroke="#222" stroke-width="1"/>
<circle cx="451.4" cy="369.5" r="1.3" fill="#000"/>
<text x="0" y="0" font-size="9.2" text-anchor="middle" fill="#111" stroke="#111" stroke-width="0.22" font-weight="normal" transform="translate(356.4,414) rotate(-90)">Compliance mL/cmH<tspan font-size="0.45em" dy="0.12em">2</tspan><tspan dy="-0.12em">O</tspan></text>
<text x="0" y="0" font-size="7.6" text-anchor="end" fill="#111" stroke="#111" stroke-width="0.22" font-weight="normal" transform="translate(412.7,470.3) rotate(-45)">BM only</text>
<text x="0" y="0" font-size="7.6" text-anchor="end" fill="#111" stroke="#111" stroke-width="0.22" font-weight="normal" transform="translate(487.85,470.65) rotate(-45)">BM+spleen</text>
</svg>
</body></html>
